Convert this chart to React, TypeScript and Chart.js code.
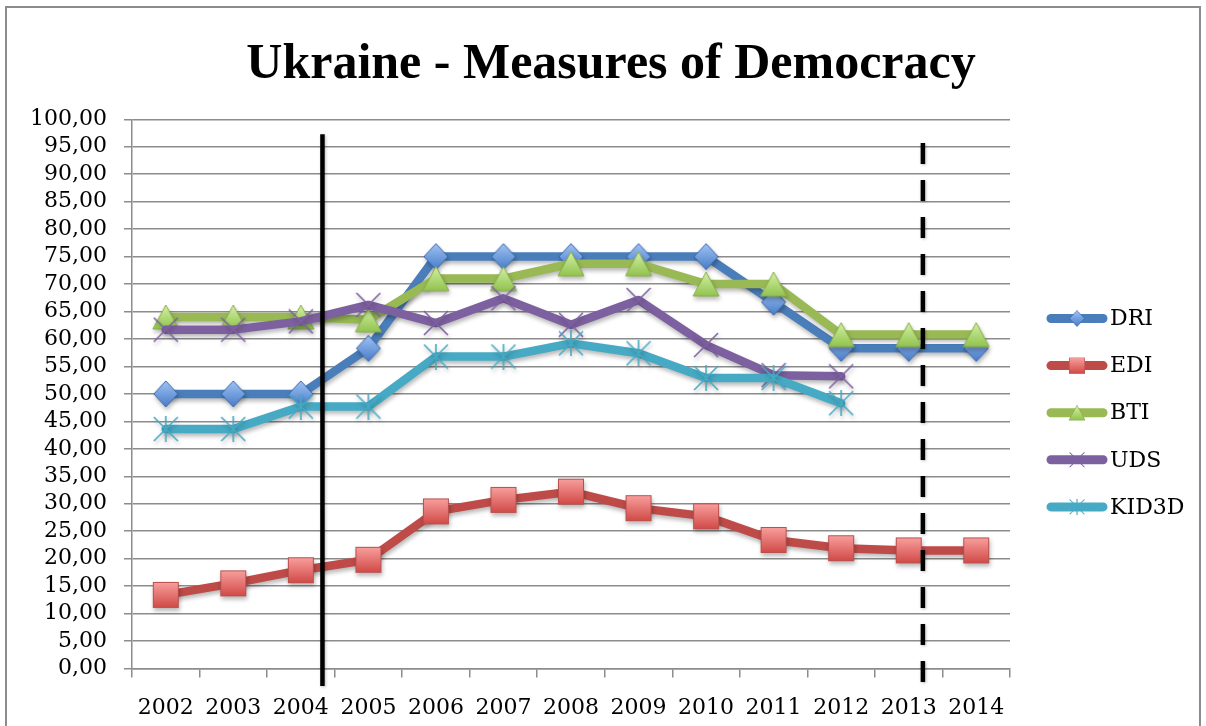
import React, { useEffect, useRef } from 'react';
import { Chart, registerables } from 'chart.js';

Chart.register(...registerables);

// ---------- data ----------
const years = ['2002', '2003', '2004', '2005', '2006', '2007', '2008', '2009', '2010', '2011', '2012', '2013', '2014'];
const seriesNames = ['DRI', 'EDI', 'BTI', 'UDS', 'KID3D'];
const dri = [50, 50, 50, 58.3, 75, 75, 75, 75, 75, 66.7, 58.3, 58.3, 58.3];
const edi = [13.4, 15.5, 17.9, 19.8, 28.6, 30.7, 32.2, 29.2, 27.7, 23.4, 21.9, 21.5, 21.5];
const bti = [64, 64, 64, 63.5, 71, 71, 73.7, 73.7, 70, 70, 60.8, 60.8, 60.8];
const uds = [61.7, 61.7, 63.2, 66.2, 62.9, 67.4, 62.6, 67.1, 58.9, 53.4, 53.2, null, null];
const kid3d = [43.6, 43.6, 47.7, 47.7, 56.8, 56.8, 59.2, 57.4, 52.9, 52.9, 48.3, null, null];
const yMin = 0;
const yMax = 100;
const yStep = 5;
const titleText = 'Ukraine - Measures of Democracy';
// vertical reference lines (category index position, value range)
const refLines = [
  { at: 2.32, from: 97.3, to: -3.2, dash: [] as number[] },
  { at: 11.21, from: 95.7, to: -3.2, dash: [21, 16] },
];

// ---------- styles ----------
const lineColors = ['#4A7EBB', '#BE4B48', '#98B954', '#7D60A0', '#46AAC5'];
const TICK_FONT = '"DejaVu Serif", serif';

function mk(w: number, h: number) {
  const c = document.createElement('canvas');
  c.width = w;
  c.height = h;
  return c;
}

function makeMarkers() {
  // diamond
  const d = mk(26, 28);
  let g = d.getContext('2d')!;
  let gr = g.createLinearGradient(0, 0, 0, 28);
  gr.addColorStop(0, '#A4C6F6');
  gr.addColorStop(1, '#4479C6');
  g.beginPath();
  g.moveTo(13, 1); g.lineTo(25, 14); g.lineTo(13, 27); g.lineTo(1, 14); g.closePath();
  g.fillStyle = gr; g.fill();
  g.strokeStyle = '#3B68AB'; g.lineWidth = 1; g.stroke();

  // square
  const s = mk(28, 28);
  g = s.getContext('2d')!;
  gr = g.createLinearGradient(0, 0, 0, 28);
  gr.addColorStop(0, '#FAA4A2');
  gr.addColorStop(1, '#CF4542');
  g.fillStyle = gr;
  g.fillRect(1, 1, 26, 26);
  g.strokeStyle = '#B9504D'; g.lineWidth = 1; g.strokeRect(1.5, 1.5, 25, 25);

  // triangle
  const t = mk(28, 26);
  g = t.getContext('2d')!;
  gr = g.createLinearGradient(0, 0, 0, 26);
  gr.addColorStop(0, '#D6F2AA');
  gr.addColorStop(1, '#8FC24A');
  g.beginPath();
  g.moveTo(14, 1); g.lineTo(27, 25); g.lineTo(1, 25); g.closePath();
  g.fillStyle = gr; g.fill();
  g.strokeStyle = '#88AE48'; g.lineWidth = 1; g.stroke();

  // X cross
  const x = mk(26, 26);
  g = x.getContext('2d')!;
  g.strokeStyle = '#7D60A0'; g.lineWidth = 1.6;
  g.beginPath();
  g.moveTo(1, 1); g.lineTo(25, 25); g.moveTo(25, 1); g.lineTo(1, 25);
  g.stroke();

  // asterisk
  const a = mk(26, 26);
  g = a.getContext('2d')!;
  g.strokeStyle = '#46AAC5'; g.lineWidth = 1.6;
  g.beginPath();
  g.moveTo(1, 1); g.lineTo(25, 25); g.moveTo(25, 1); g.lineTo(1, 25);
  g.moveTo(13, 0); g.lineTo(13, 26);
  g.stroke();

  return [d, s, t, x, a];
}

export default function App() {
  const ref = useRef<HTMLCanvasElement | null>(null);

  useEffect(() => {
    if (!ref.current) return;
    const markers = makeMarkers();
    const values = [dri, edi, bti, uds, kid3d];

    const datasets = seriesNames.map((name, i) => ({
      label: name,
      data: values[i],
      borderColor: lineColors[i],
      backgroundColor: lineColors[i],
      borderWidth: 8.5,
      borderJoinStyle: 'round' as const,
      borderCapStyle: 'round' as const,
      pointStyle: markers[i] as any,
      pointRadius: 12,
      pointHoverRadius: 12,
      tension: 0,
      spanGaps: false,
      order: 5 - i,
      clip: false as any,
    }));

    const shadowPlugin = {
      id: 'shadowAndRefs',
      beforeDatasetsDraw(chart: any) {
        const ctx = chart.ctx;
        ctx.save();
        ctx.shadowColor = 'rgba(0,0,0,0.28)';
        ctx.shadowBlur = 4;
        ctx.shadowOffsetX = 1;
        ctx.shadowOffsetY = 3;
      },
      afterDatasetsDraw(chart: any) {
        const ctx = chart.ctx;
        ctx.restore();
        const xs = chart.scales.x;
        const ys = chart.scales.y;
        refLines.forEach((l) => {
          const px = xs.getPixelForValue(l.at);
          ctx.save();
          ctx.strokeStyle = '#000';
          ctx.lineWidth = 4.5;
          ctx.lineCap = 'butt';
          ctx.setLineDash(l.dash);
          ctx.shadowColor = 'rgba(0,0,0,0.25)';
          ctx.shadowBlur = 3;
          ctx.shadowOffsetX = 1;
          ctx.shadowOffsetY = 1;
          ctx.beginPath();
          ctx.moveTo(px, ys.getPixelForValue(l.from));
          ctx.lineTo(px, ys.getPixelForValue(l.to));
          ctx.stroke();
          ctx.restore();
        });
      },
      afterDraw(chart: any) {
        const ctx = chart.ctx;
        const area = chart.chartArea;
        // title
        ctx.save();
        ctx.fillStyle = '#000';
        ctx.font = 'bold 50px "Liberation Serif", serif';
        ctx.textAlign = 'center';
        ctx.textBaseline = 'alphabetic';
        ctx.fillText(titleText, 611, 78);
        ctx.restore();
        // legend
        const lx0 = area.right + 41;
        const lx1 = area.right + 93;
        const top = 318.5;
        const gap = 47.1;
        chart.data.datasets.forEach((ds: any, i: number) => {
          const y = top + i * gap;
          ctx.save();
          ctx.strokeStyle = ds.borderColor;
          ctx.lineWidth = 9;
          ctx.lineCap = 'round';
          ctx.beginPath();
          ctx.moveTo(lx0, y);
          ctx.lineTo(lx1, y);
          ctx.stroke();
          const m = ds.pointStyle as HTMLCanvasElement;
          const sc = 0.62;
          ctx.drawImage(m, (lx0 + lx1) / 2 - (m.width * sc) / 2, y - (m.height * sc) / 2, m.width * sc, m.height * sc);
          ctx.fillStyle = '#000';
          ctx.font = '22px ' + TICK_FONT;
          ctx.textAlign = 'left';
          ctx.textBaseline = 'middle';
          ctx.fillText(ds.label, lx1 + 7, y + 1);
          ctx.restore();
        });
      },
    };

    const chart = new Chart(ref.current, {
      type: 'line',
      data: { labels: years, datasets },
      options: {
        responsive: false,
        animation: false,
        devicePixelRatio: 1,
        layout: { padding: { left: 0, right: 196, top: 119.3, bottom: 0 } },
        plugins: {
          legend: { display: false },
          title: { display: false },
          tooltip: { enabled: false },
        },
        scales: {
          x: {
            type: 'category',
            offset: true,
            grid: {
              display: true,
              offset: true,
              drawOnChartArea: false,
              drawTicks: true,
              tickLength: 9,
              color: '#8c8c8c',
              lineWidth: 1.5,
            },
            border: { display: true, color: '#8c8c8c', width: 1.5 },
            ticks: {
              color: '#000',
              font: { family: TICK_FONT, size: 22 },
              padding: 18,
              maxRotation: 0,
              autoSkip: false,
            },
            afterFit: (scale: any) => {
              scale.height = 57.5;
            },
          },
          y: {
            type: 'linear',
            min: yMin,
            max: yMax,
            grid: {
              color: '#8c8c8c',
              lineWidth: 1.5,
              drawTicks: true,
              tickLength: 8,
            },
            border: { display: true, color: '#8c8c8c', width: 1.5 },
            ticks: {
              stepSize: yStep,
              autoSkip: false,
              color: '#000',
              font: { family: TICK_FONT, size: 22, lineHeight: 1 },
              padding: 17,
              callback: (v: any) => Number(v).toFixed(2).replace('.', ','),
            },
            afterFit: (scale: any) => {
              scale.width = 132;
            },
          },
        },
      },
      plugins: [shadowPlugin],
    });

    return () => chart.destroy();
  }, []);

  return (
    <div style={{ position: 'fixed', left: 0, top: 0, width: 1206, height: 726, background: '#fff', overflow: 'hidden' }}>
      <div
        style={{
          position: 'absolute',
          left: 5,
          top: 6,
          width: 1196,
          height: 800,
          border: '2px solid #8c8c8c',
          boxSizing: 'border-box',
        }}
      />
      <canvas ref={ref} width={1206} height={726} style={{ position: 'absolute', left: 0, top: 0, width: 1206, height: 726, display: 'block' }} />
    </div>
  );
}
